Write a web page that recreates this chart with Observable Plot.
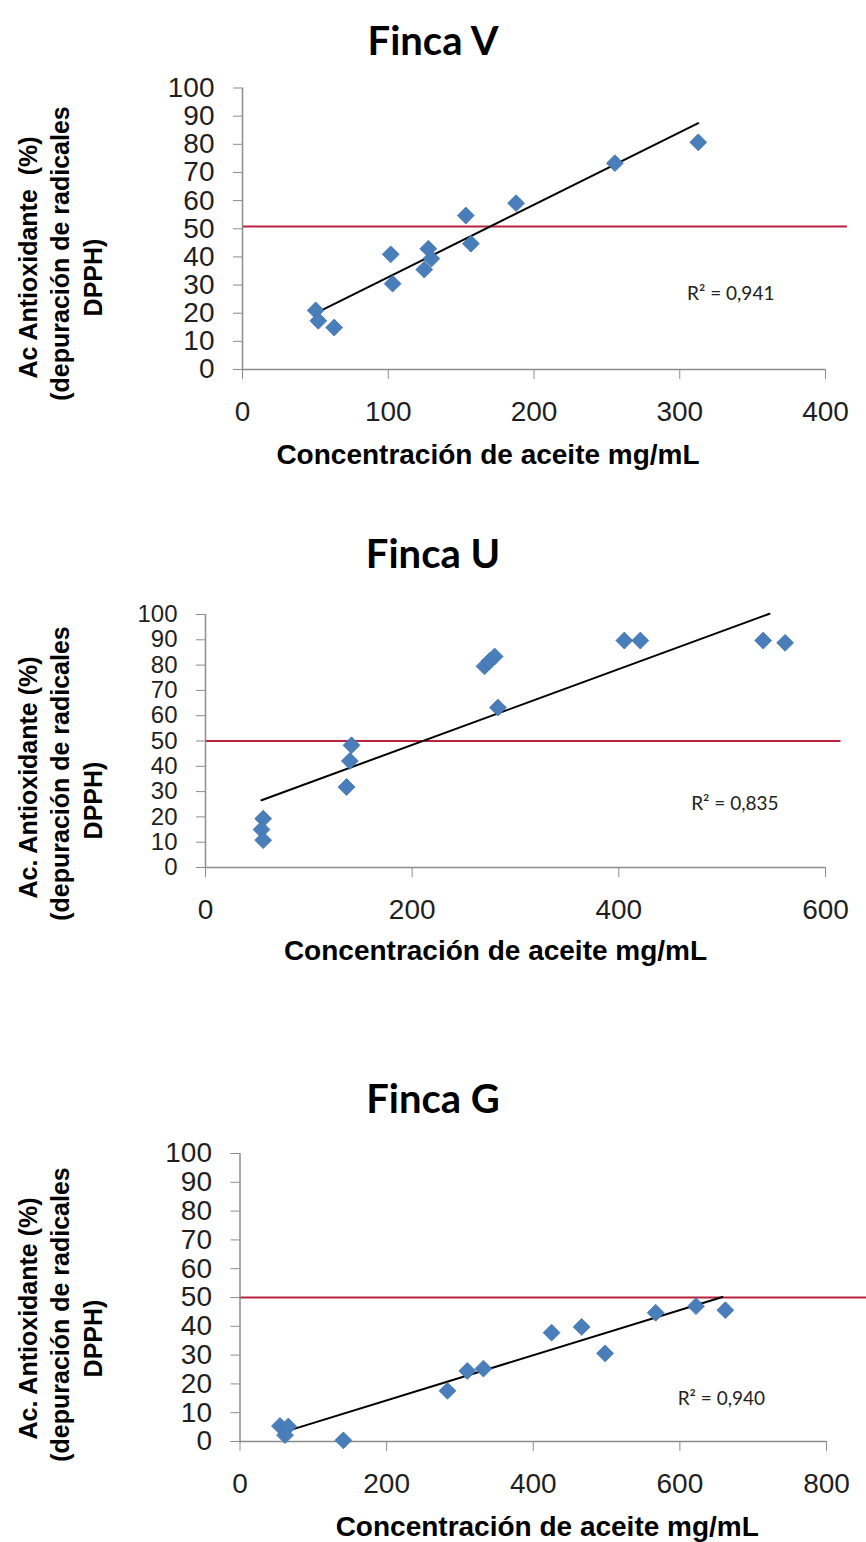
<!DOCTYPE html>
<html><head><meta charset="utf-8">
<script src="https://cdn.jsdelivr.net/npm/d3@7"></script>
<script src="https://cdn.jsdelivr.net/npm/@observablehq/plot@0.6"></script>
<style>
body{margin:0;background:#fff;}
#page{position:relative;width:866px;height:1542px;overflow:hidden;background:#fff;font-family:"Liberation Sans",Arial,sans-serif;}
.title{position:absolute;left:0;width:866px;text-align:center;font-family:Lato,"Open Sans",sans-serif;font-weight:700;font-size:40px;line-height:48px;color:#000;}
.panel{position:absolute;left:0;}
</style></head><body><div id="page"></div>
<script>
// ---- Data: Finca V ----
const vConc = [50.2, 52, 62.9, 101.7, 103, 124.7, 127.5, 129.6, 153.2, 156.7, 187.7, 255.5, 312.7];
const vAct  = [21.0, 17.3, 14.9, 40.9, 30.5, 35.5, 42.9, 39.4, 54.7, 44.7, 59.1, 73.3, 80.7];
const vTrendConc = [51, 312.7];
const vTrendAct  = [20.2, 87.5];
const vR2 = "R² = 0,941";

// ---- Data: Finca U ----
const uConc = [55.8, 54.2, 55.8, 136.5, 139.7, 141.3, 270, 275, 279.8, 283, 405.3, 420.8, 539.7, 560.9];
const uAct  = [19.3, 15.0, 10.8, 31.8, 42.1, 48.3, 79.5, 81.6, 83.4, 63.2, 89.7, 89.7, 89.7, 88.8];
const uTrendConc = [54.2, 545.8];
const uTrendAct  = [26.6, 100.3];
const uR2 = "R² = 0,835";

// ---- Data: Finca G ----
const gConc = [54.5, 65.9, 61.4, 141, 283, 310, 332, 425, 466, 498, 567, 622, 662];
const gAct  = [5.4, 5.2, 2.2, 0.4, 17.6, 24.5, 25.3, 37.8, 39.8, 30.6, 44.7, 47.0, 45.6];
const gTrendConc = [55, 658];
const gTrendAct  = [2.9, 50.2];
const gR2 = "R² = 0,940";

// ---- Axis ticks and labels ----
const yTicks = [0, 10, 20, 30, 40, 50, 60, 70, 80, 90, 100];
const vXTicks = [0, 100, 200, 300, 400];
const uXTicks = [0, 200, 400, 600];
const gXTicks = [0, 200, 400, 600, 800];
const titles = ["Finca V", "Finca U", "Finca G"];
const xLabel = "Concentración de aceite mg/mL";
const yLabelV = ["Ac Antioxidante\u00a0\u00a0(%)", "(depuración de radicales", "DPPH)"];
const yLabelUG = ["Ac. Antioxidante (%)", "(depuración de radicales", "DPPH)"];
const threshold = [50.8, 50, 50];

// ---- Layout (page pixels) ----
const panels = [
  {title: titles[0], titleY: 40, conc: vConc, act: vAct, tc: vTrendConc, ta: vTrendAct, r2: vR2, r2x: 305, r2y: 27,
   xTicks: vXTicks, xMax: 400, red: threshold[0], redX2: 415, yLabel: yLabelV, yFont: 28,
   top: 60, height: 420, mt: 27.5, mb: 111, ml: 242, mr: 41, xlDx: -46, xlDy: 86, ylY: [257, 253, 277]},
  {title: titles[1], titleY: 553, conc: uConc, act: uAct, tc: uTrendConc, ta: uTrendAct, r2: uR2, r2x: 470, r2y: 25.3,
   xTicks: uXTicks, xMax: 600, red: threshold[1], redX2: 615, yLabel: yLabelUG, yFont: 24,
   top: 580, height: 420, mt: 34, mb: 133, ml: 205, mr: 41, xlDx: -20, xlDy: 84, ylY: [777, 773, 800]},
  {title: titles[2], titleY: 1098, conc: gConc, act: gAct, tc: gTrendConc, ta: gTrendAct, r2: gR2, r2x: 597, r2y: 14.9,
   xTicks: gXTicks, xMax: 800, red: threshold[2], redX2: 860, yLabel: yLabelUG, yFont: 28,
   top: 1120, height: 422, mt: 33, mb: 101, ml: 239.5, mr: 40, xlDx: 14, xlDy: 86, ylY: [1318, 1314, 1338]}
];
const ylX = [28, 60, 93];

const page = document.getElementById("page");
const axisGray = "#8c8c8c";
const ink = "#1f1f1f";

for (const p of panels) {
  const t = document.createElement("div");
  t.className = "title";
  t.style.top = (p.titleY - 24) + "px";
  t.textContent = p.title;
  page.appendChild(t);

  const pts = p.conc.map((c, i) => ({conc: c, act: p.act[i]}));
  const trend = p.tc.map((c, i) => ({conc: c, act: p.ta[i]}));
  const frameMid = p.top + p.mt + (p.height - p.mt - p.mb) / 2;

  const yTitleMarks = p.yLabel.map((line, i) =>
    Plot.text([line], {frameAnchor: "left", textAnchor: "middle", lineAnchor: "middle", text: d => d, rotate: -90,
      dx: -(p.ml - ylX[i]), dy: p.ylY[i] - frameMid, fontSize: 25, fontWeight: "bold", fill: "#000"}));

  const chart = Plot.plot({
    width: 866,
    height: p.height,
    marginTop: p.mt, marginBottom: p.mb, marginLeft: p.ml, marginRight: p.mr,
    style: {background: "transparent", fontFamily: '"Liberation Sans", Arial, sans-serif', overflow: "visible"},
    x: {domain: [0, p.xMax]},
    y: {domain: [0, 100]},
    marks: [
      Plot.ruleY([p.red], {x1: 0, x2: p.redX2, stroke: "#b8223c", strokeWidth: 2}),
      Plot.ruleX([0], {y1: 0, y2: 100, stroke: axisGray, strokeWidth: 1.5}),
      Plot.ruleY([0], {x1: 0, x2: p.xMax, stroke: axisGray, strokeWidth: 1.5}),
      Plot.axisY(yTicks, {tickSize: 9, tickPadding: 19, fontSize: p.yFont, stroke: axisGray, fill: ink, label: null, tickFormat: d => String(d)}),
      Plot.axisX(p.xTicks, {tickSize: 10, tickPadding: 22, fontSize: 28, stroke: axisGray, fill: ink, label: null, tickFormat: d => String(d)}),
      Plot.line(trend, {x: "conc", y: "act", stroke: "#000", strokeWidth: 2}),
      Plot.dot(pts, {x: "conc", y: "act", symbol: "diamond2", r: 7.6, fill: "#4a7ebb", stroke: "#3f72ad", strokeWidth: 0.8}),
      Plot.text([p.r2], {x: p.r2x, y: p.r2y, text: d => d, textAnchor: "start", fontSize: 19, fontFamily: "Lato, sans-serif", fill: "#222"}),
      Plot.text([xLabel], {frameAnchor: "bottom", lineAnchor: "middle", textAnchor: "middle", text: d => d, dx: p.xlDx, dy: p.xlDy, fontSize: 28, fontWeight: "bold", fill: "#000"}),
      ...yTitleMarks
    ]
  });
  const wrap = document.createElement("div");
  wrap.className = "panel";
  wrap.style.top = p.top + "px";
  wrap.appendChild(chart);
  page.appendChild(wrap);
}
</script>
</body></html>
